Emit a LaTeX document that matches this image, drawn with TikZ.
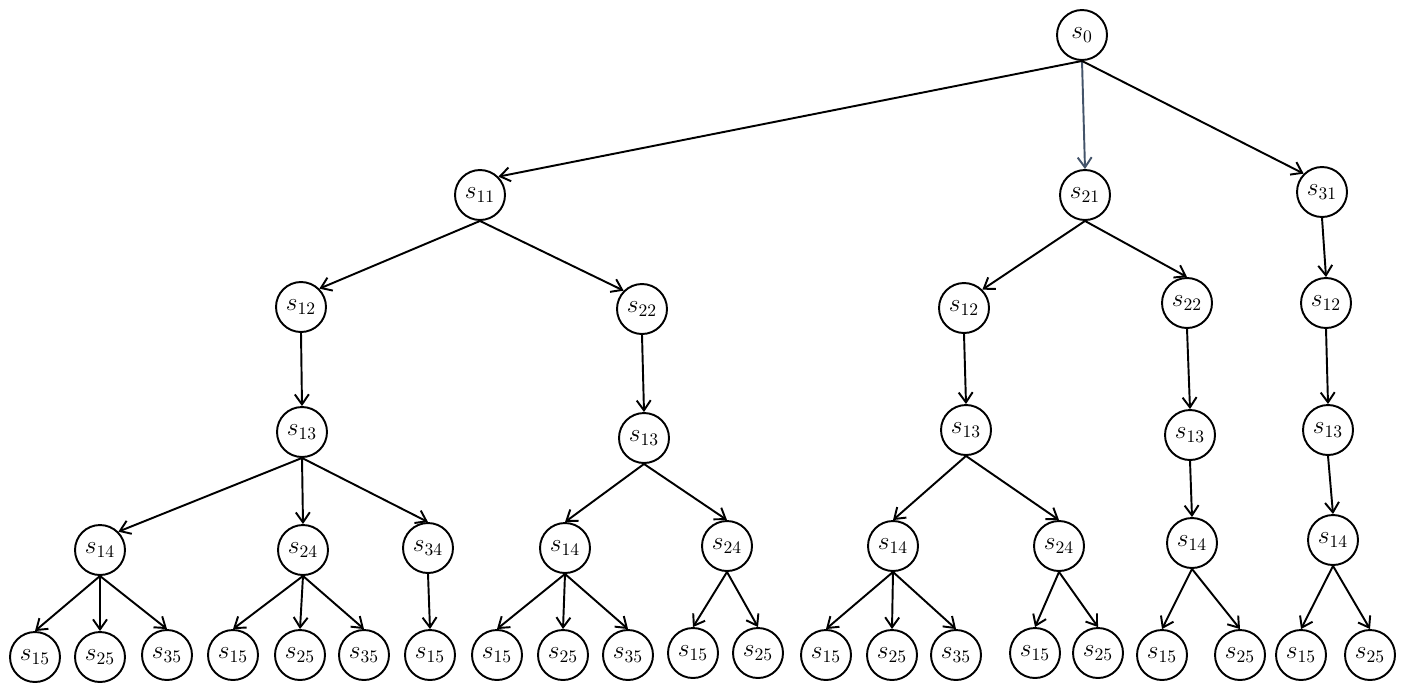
\documentclass[tikz,border=0pt]{standalone}
\usepackage{amsfonts, amssymb, amsmath}
\usepackage{xcolor}
\usetikzlibrary{arrows.meta}

\definecolor{slate}{HTML}{44546A}

\begin{document}
\begin{tikzpicture}[x=0.02cm, y=-0.02cm,
    stnode/.style={draw, circle, line width=1.1pt, minimum size=1cm, inner sep=0pt, font=\Large},
    >={Straight Barb[length=2mm,width=2.8mm]},
    every path/.style={line width=1.1pt}]
  \useasboundingbox (0,0) rectangle (1405,691);

  % Draw root and first level
  \node[stnode] (s0) at (1082,35) {$s_0$};
  \node[stnode] (s11) at (480,195) {$s_{11}$};
  \node[stnode] (s21) at (1085,195) {$s_{21}$};
  \node[stnode] (s31) at (1322,192) {$s_{31}$};

  % Draw left subtree
  \node[stnode] (L12) at (301,307) {$s_{12}$};
  \node[stnode] (L22) at (642,309) {$s_{22}$};
  \node[stnode] (L13a) at (302,432) {$s_{13}$};
  \node[stnode] (L13b) at (644,438) {$s_{13}$};
  \node[stnode] (L14a) at (100,550) {$s_{14}$};
  \node[stnode] (L24a) at (303,550) {$s_{24}$};
  \node[stnode] (L34a) at (428,548) {$s_{34}$};
  \node[stnode] (L14b) at (565,548) {$s_{14}$};
  \node[stnode] (L24b) at (727,546) {$s_{24}$};
  \node[stnode] (L15a) at (35,657) {$s_{15}$};
  \node[stnode] (L25a) at (100,657) {$s_{25}$};
  \node[stnode] (L35a) at (167,655) {$s_{35}$};
  \node[stnode] (L15b) at (233,655) {$s_{15}$};
  \node[stnode] (L25b) at (300,655) {$s_{25}$};
  \node[stnode] (L35b) at (364,655) {$s_{35}$};
  \node[stnode] (L15c) at (430,655) {$s_{15}$};
  \node[stnode] (L15d) at (497,655) {$s_{15}$};
  \node[stnode] (L25d) at (563,655) {$s_{25}$};
  \node[stnode] (L35d) at (628,655) {$s_{35}$};
  \node[stnode] (L15e) at (693,653) {$s_{15}$};
  \node[stnode] (L25e) at (758,653) {$s_{25}$};

  % Draw middle subtree
  \node[stnode] (M12) at (964,308) {$s_{12}$};
  \node[stnode] (M22) at (1187,303) {$s_{22}$};
  \node[stnode] (M13a) at (966,430) {$s_{13}$};
  \node[stnode] (M13b) at (1190,435) {$s_{13}$};
  \node[stnode] (M14a) at (893,546) {$s_{14}$};
  \node[stnode] (M24a) at (1059,546) {$s_{24}$};
  \node[stnode] (M14b) at (1192,543) {$s_{14}$};
  \node[stnode] (M15a) at (826,655) {$s_{15}$};
  \node[stnode] (M25a) at (892,655) {$s_{25}$};
  \node[stnode] (M35a) at (956,655) {$s_{35}$};
  \node[stnode] (M15b) at (1035,653) {$s_{15}$};
  \node[stnode] (M25b) at (1098,653) {$s_{25}$};
  \node[stnode] (M15c) at (1162,655) {$s_{15}$};
  \node[stnode] (M25c) at (1240,655) {$s_{25}$};

  % Draw right subtree
  \node[stnode] (R12) at (1326,303) {$s_{12}$};
  \node[stnode] (R13) at (1328,430) {$s_{13}$};
  \node[stnode] (R14) at (1333,540) {$s_{14}$};
  \node[stnode] (R15) at (1301,655) {$s_{15}$};
  \node[stnode] (R25) at (1370,655) {$s_{25}$};

  % Draw edges (parent bottom to a point on the child's top)
  \draw[->, slate] (s0.south) -- (s21.north);
  \foreach \a/\b/\t in {s0/s11/45, s0/s31/135,
      s11/L12/45, s11/L22/135, L12/L13a/north, L22/L13b/north,
      L13a/L14a/45, L13a/L24a/north, L13a/L34a/north,
      L13b/L14b/north, L13b/L24b/north,
      L14a/L15a/north, L14a/L25a/north, L14a/L35a/north,
      L24a/L15b/north, L24a/L25b/north, L24a/L35b/north,
      L34a/L15c/north, L14b/L15d/north, L14b/L25d/north, L14b/L35d/north,
      L24b/L15e/north, L24b/L25e/north,
      s21/M12/45, s21/M22/north, M12/M13a/north, M22/M13b/north,
      M13a/M14a/north, M13a/M24a/north, M13b/M14b/north,
      M14a/M15a/north, M14a/M25a/north, M14a/M35a/north,
      M24a/M15b/north, M24a/M25b/north,
      M14b/M15c/north, M14b/M25c/north,
      s31/R12/north, R12/R13/north, R13/R14/north,
      R14/R15/north, R14/R25/north}
    \draw[->] (\a.south) -- (\b.\t);
\end{tikzpicture}
\end{document}
